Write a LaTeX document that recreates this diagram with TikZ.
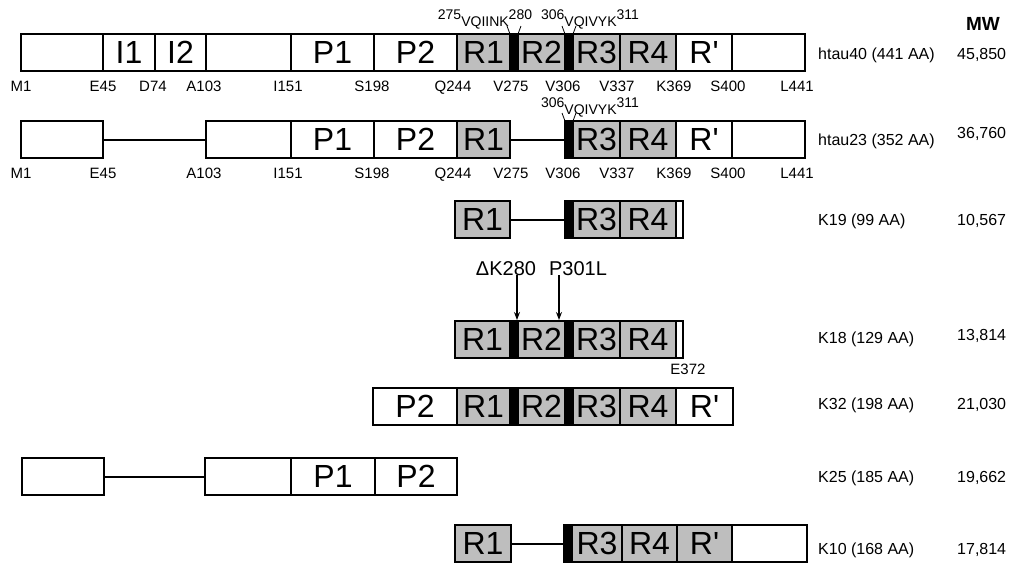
\documentclass[tikz,border=0pt]{standalone}
\usepackage{fontspec}
\setmainfont{Liberation Sans}
\usetikzlibrary{arrows.meta}
\definecolor{repgrey}{RGB}{190,190,190}
% one domain segment: name, left x, right x, top y, extra style, label
\newcommand\seg[6]{\node[segbox,#5,minimum width={(#3-#2)*1pt}] (#1) at ({(#2+#3)/2},{#4+18.5}) {#6};}
\newcommand\Rp{R\textquotesingle}
\newcommand\up[1]{\raisebox{6.5pt}{#1}}

\begin{document}
\begin{tikzpicture}[x=1pt,y=-1pt,
  segbox/.style={draw=black,line width=1.6pt,minimum height=37pt,inner sep=0pt,outer sep=0pt,
                 font=\fontsize{32}{32}\selectfont,fill=white},
  rep/.style={fill=repgrey},
  hexbar/.style={fill=black},
  outline/.style={draw=black,line width=2.6pt},
  linker/.style={draw=black,line width=2pt},
  poslabel/.style={font=\fontsize{15}{15}\selectfont,inner sep=0pt,anchor=base},
  isoform/.style={font=\fontsize{16}{16}\selectfont,anchor=base west,inner sep=0pt},
  mwval/.style={font=\fontsize{16}{16}\selectfont,anchor=base west,inner sep=0pt},
  motif/.style={font=\fontsize{14}{14}\selectfont,anchor=base,inner sep=0pt},
  motifline/.style={draw=black,line width=0.8pt},
  mut/.style={font=\fontsize{20}{20}\selectfont,inner sep=0pt,anchor=base},
  mutarrow/.style={draw=black,line width=1.2pt,-{Stealth[length=8pt,width=6pt]}}
]
\useasboundingbox (0,0) rectangle (1010,566);

% ---------- htau40 ----------
\seg{a1}{21}{103}{34}{}{}
\seg{a2}{103}{155}{34}{}{I1}
\seg{a3}{155}{206}{34}{}{I2}
\seg{a4}{206}{291}{34}{}{}
\seg{a5}{291}{374}{34}{}{P1}
\seg{a6}{374}{457}{34}{}{P2}
\seg{a7}{457}{510}{34}{rep}{R1}
\seg{a8}{510}{518}{34}{hexbar}{}
\seg{a9}{518}{565}{34}{rep}{R2}
\seg{a10}{565}{573}{34}{hexbar}{}
\seg{a11}{573}{620}{34}{rep}{R3}
\seg{a12}{620}{676}{34}{rep}{R4}
\seg{a13}{676}{732}{34}{}{\Rp}
\seg{a14}{732}{805}{34}{}{}
\draw[outline] (a1.north west) rectangle (a14.south east);

\node[motif] (m1) at (485,26) {\up{275}VQIINK\up{280}};
\node[motif] (m2) at (590,26) {\up{306}VQIVYK\up{311}};
\draw[motifline] (a8.north west) -- ++(-3,-8);
\draw[motifline] (a8.north east) -- ++(3,-8);
\draw[motifline] (a10.north west) -- ++(-3,-8);
\draw[motifline] (a10.north east) -- ++(3,-8);

\node[poslabel] (ra1) at (21,91) {M1};
\node[poslabel] (ra2) at (103,91) {E45};
\node[poslabel] (ra3) at (153,91) {D74};
\node[poslabel] (ra4) at (204,91) {A103};
\node[poslabel] (ra5) at (288,91) {I151};
\node[poslabel] (ra6) at (372,91) {S198};
\node[poslabel] (ra7) at (453,91) {Q244};
\node[poslabel] (ra8) at (511,91) {V275};
\node[poslabel] (ra9) at (563,91) {V306};
\node[poslabel] (ra10) at (617,91) {V337};
\node[poslabel] (ra11) at (674,91) {K369};
\node[poslabel] (ra12) at (728,91) {S400};
\node[poslabel] (ra13) at (797,91) {L441};

% ---------- htau23 ----------
\seg{b1}{21}{103}{121}{}{}
\seg{b2}{206}{291}{121}{}{}
\seg{b3}{291}{374}{121}{}{P1}
\seg{b4}{374}{457}{121}{}{P2}
\seg{b5}{457}{510}{121}{rep}{R1}
\seg{b6}{565}{573}{121}{hexbar}{}
\seg{b7}{573}{620}{121}{rep}{R3}
\seg{b8}{620}{676}{121}{rep}{R4}
\seg{b9}{676}{732}{121}{}{\Rp}
\seg{b10}{732}{805}{121}{}{}
\draw[outline] (b1.north west) rectangle (b1.south east);
\draw[outline] (b2.north west) rectangle (b5.south east);
\draw[outline] (b6.north west) rectangle (b10.south east);
\draw[linker] (b1.east) -- (b2.west);
\draw[linker] (b5.east) -- (b6.west);

\node[motif] (m3) at (590,114) {\up{306}VQIVYK\up{311}};
\draw[motifline] (b6.north west) -- ++(-3,-8);
\draw[motifline] (b6.north east) -- ++(3,-8);

\node[poslabel] (rb1) at (21,178) {M1};
\node[poslabel] (rb2) at (103,178) {E45};
\node[poslabel] (rb4) at (204,178) {A103};
\node[poslabel] (rb5) at (288,178) {I151};
\node[poslabel] (rb6) at (372,178) {S198};
\node[poslabel] (rb7) at (453,178) {Q244};
\node[poslabel] (rb8) at (511,178) {V275};
\node[poslabel] (rb9) at (563,178) {V306};
\node[poslabel] (rb10) at (617,178) {V337};
\node[poslabel] (rb11) at (674,178) {K369};
\node[poslabel] (rb12) at (728,178) {S400};
\node[poslabel] (rb13) at (797,178) {L441};

% ---------- K19 ----------
\seg{c1}{455}{510}{201}{rep}{R1}
\seg{c2}{565}{573}{201}{hexbar}{}
\seg{c3}{573}{620}{201}{rep}{R3}
\seg{c4}{620}{676}{201}{rep}{R4}
\seg{c5}{676}{683}{201}{}{}
\draw[outline] (c1.north west) rectangle (c1.south east);
\draw[outline] (c2.north west) rectangle (c5.south east);
\draw[linker] (c1.east) -- (c2.west);

% ---------- K18 ----------
\seg{d1}{455}{510}{321}{rep}{R1}
\seg{d2}{510}{518}{321}{hexbar}{}
\seg{d3}{518}{565}{321}{rep}{R2}
\seg{d4}{565}{573}{321}{hexbar}{}
\seg{d5}{573}{620}{321}{rep}{R3}
\seg{d6}{620}{676}{321}{rep}{R4}
\seg{d7}{676}{683}{321}{}{}
\draw[outline] (d1.north west) rectangle (d7.south east);
\node[poslabel] (e372) at (688,374.5) {E372};

\node[mut] (dk) at (506,275) {ΔK280};
\node[mut] (pl) at (578,275) {P301L};
\coordinate (hit1) at (517,320);
\coordinate (hit2) at (559,320);
\draw[mutarrow] (dk.south -| hit1) -- (hit1);
\draw[mutarrow] (pl.south -| hit2) -- (hit2);

% ---------- K32 ----------
\seg{e1}{373}{457}{388}{}{P2}
\seg{e2}{457}{510}{388}{rep}{R1}
\seg{e3}{510}{518}{388}{hexbar}{}
\seg{e4}{518}{565}{388}{rep}{R2}
\seg{e5}{565}{573}{388}{hexbar}{}
\seg{e6}{573}{620}{388}{rep}{R3}
\seg{e7}{620}{676}{388}{rep}{R4}
\seg{e8}{676}{733}{388}{}{\Rp}
\draw[outline] (e1.north west) rectangle (e8.south east);

% ---------- K25 ----------
\seg{f1}{22}{104}{458}{}{}
\seg{f2}{205}{291}{458}{}{}
\seg{f3}{291}{375}{458}{}{P1}
\seg{f4}{375}{457}{458}{}{P2}
\draw[outline] (f1.north west) rectangle (f1.south east);
\draw[outline] (f2.north west) rectangle (f4.south east);
\draw[linker] (f1.east) -- (f2.west);

% ---------- K10 ----------
\seg{g1}{455}{511}{525}{rep}{R1}
\seg{g2}{564}{572}{525}{hexbar}{}
\seg{g3}{572}{622}{525}{rep}{R3}
\seg{g4}{622}{677}{525}{rep}{R4}
\seg{g5}{677}{732}{525}{rep}{\Rp}
\seg{g6}{732}{807}{525}{}{}
\draw[outline] (g1.north west) rectangle (g1.south east);
\draw[outline] (g2.north west) rectangle (g6.south east);
\draw[linker] (g1.east) -- (g2.west);

% ---------- names and molecular weights ----------
\node[font=\fontsize{19}{19}\selectfont\bfseries,inner sep=0pt,anchor=base] (mwhead) at (983,30) {MW};
\node[isoform] (n1) at (818,59) {htau40 (441 AA)};
\node[isoform] (n2) at (818,145) {htau23 (352 AA)};
\node[isoform] (n3) at (818,225) {K19 (99 AA)};
\node[isoform] (n4) at (818,343) {K18 (129 AA)};
\node[isoform] (n5) at (818,409) {K32 (198 AA)};
\node[isoform] (n6) at (818,482) {K25 (185 AA)};
\node[isoform] (n7) at (818,554) {K10 (168 AA)};
\node[mwval] (w1) at (957,59) {45,850};
\node[mwval] (w2) at (957,138) {36,760};
\node[mwval] (w3) at (957,225) {10,567};
\node[mwval] (w4) at (957,340) {13,814};
\node[mwval] (w5) at (957,409) {21,030};
\node[mwval] (w6) at (957,482) {19,662};
\node[mwval] (w7) at (957,554) {17,814};
\end{tikzpicture}
\end{document}
